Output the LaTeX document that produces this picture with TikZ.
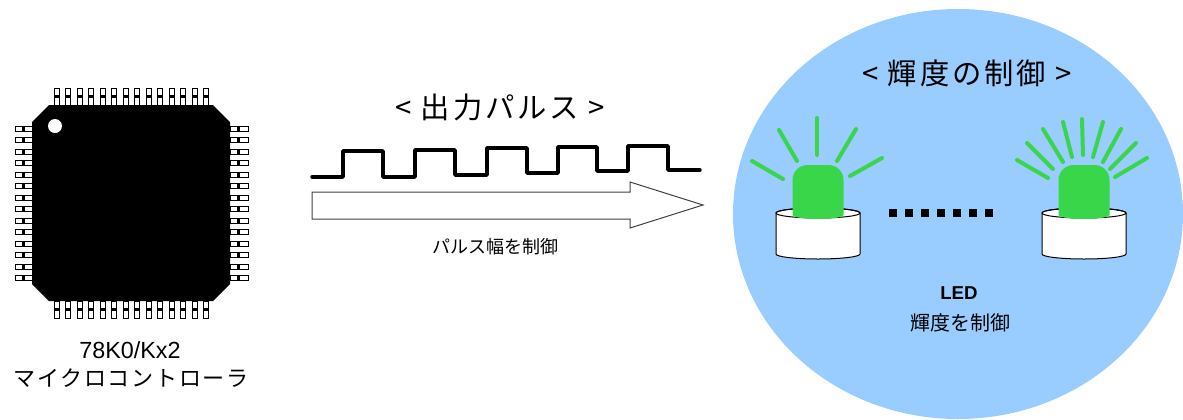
\documentclass[tikz,border=0pt]{standalone}
\usepackage{fontspec}
\setmainfont{Liberation Sans}
\newfontfamily\jp{Noto Sans CJK JP}
\usepackage{tikz}
\definecolor{Sky}{RGB}{153,204,255}
\definecolor{LedGreen}{RGB}{58,214,74}
\tikzstyle{Ray}=[LedGreen, line width=3pt, line cap=round]
\tikzstyle{Pin}=[draw=black, fill=white, line width=0.6pt]
\tikzstyle{Title}=[inner sep=0pt, font=\jp\fontsize{22}{26}\selectfont\addfontfeature{LetterSpace=10}]
\tikzstyle{Caption}=[inner sep=0pt, font=\jp\fontsize{13.5}{16}\selectfont]

\begin{document}
\begin{tikzpicture}[x=0.75pt, y=-0.75pt]
    \useasboundingbox (0,0) rectangle (1183,419);

    \fill[Sky] (958,214) ellipse [x radius=225, y radius=205];

    % package leads
    \foreach \i in {0,...,13} {
        \path[Pin] (54+11.5*\i,88) rectangle +(5,17);
        \fill (54+11.5*\i,95) rectangle +(5,3);
        \path[Pin] (54+11.5*\i,301) rectangle +(5,17);
        \fill (54+11.5*\i,308) rectangle +(5,3);
        \path[Pin] (15,126+11.5*\i) rectangle +(18,5);
        \fill (22,126+11.5*\i) rectangle +(3,5);
        \path[Pin] (230,126+11.5*\i) rectangle +(18,5);
        \fill (237,126+11.5*\i) rectangle +(3,5);
    }
    \fill (49,105) -- (213,105) -- (230,122) -- (230,284) -- (213,301)
        -- (49,301) -- (32,284) -- (32,122) -- cycle;
    \fill[white] (55,126) circle [radius=7];

    % output pulse
    \draw[line width=2.6pt, line join=round, line cap=round]
        (312,177) -- (343,177) -- (343,151) -- (383,151) -- (383,177)
        -- (415,177) -- (415,150) -- (455,150) -- (455,175) -- (487,175)
        -- (487,148) -- (527,148) -- (527,173) -- (558,173) -- (558,147)
        -- (597,147) -- (597,171) -- (628,171) -- (628,146) -- (668,146)
        -- (668,170) -- (700,170);
    \draw[draw=black!75, line width=0.75pt, fill=white]
        (312,192) -- (630,192) -- (630,182) -- (703,205) -- (630,228)
        -- (630,219) -- (312,219) -- cycle;

    % LEDs
    \foreach \cx in {818,1084} {
        \filldraw[fill=white, line width=0.75pt] (\cx-42,213) -- (\cx-42,254)
            arc [start angle=180, end angle=0, x radius=42, y radius=5]
            -- (\cx+42,213)
            arc [start angle=0, end angle=-180, x radius=42, y radius=5] -- cycle;
        \draw[line width=0.75pt] (\cx,213) ellipse [x radius=42, y radius=5];
        \fill[LedGreen] (\cx-25.5,215) -- (\cx-25.5,180)
            arc [start angle=180, end angle=270, radius=15] -- (\cx+10.5,165)
            arc [start angle=270, end angle=360, radius=15] -- (\cx+25.5,215)
            arc [start angle=0, end angle=180, x radius=25.5, y radius=4] -- cycle;
    }
    \draw[Ray] (752,161) -- (783,179);
    \draw[Ray] (779,130) -- (797,161);
    \draw[Ray] (817,118) -- (817,155);
    \draw[Ray] (856,129) -- (837,161);
    \draw[Ray] (882,158) -- (850,176);

    \draw[Ray] (1017,160) -- (1048,178);
    \draw[Ray] (1027,143) -- (1053,169);
    \draw[Ray] (1043,129) -- (1063,162);
    \draw[Ray] (1063,122) -- (1072,157);
    \draw[Ray] (1082,119) -- (1083,155);
    \draw[Ray] (1103,122) -- (1093,157);
    \draw[Ray] (1121,129) -- (1103,162);
    \draw[Ray] (1136,143) -- (1110,169);
    \draw[Ray] (1147,158) -- (1115,177);

    \foreach \k in {0,...,6}
        \fill (889+16*\k,209) rectangle +(8,8);

    \path
    (130,350) node[inner sep=0pt, font=\fontsize{17.5}{20}\selectfont] (part) {78K0/Kx2}
    (131,378) node[inner sep=0pt, font=\jp\fontsize{16.5}{20}\selectfont\addfontfeature{LetterSpace=8}] (mcu) {マイクロコントローラ}
    (500,107) node[Title] (pulse) {< 出力パルス >}
    (495,247) node[Caption] (width) {パルス幅を制御};

    \path
    (967,73) node[Title] (bright) {< 輝度の制御 >}
    (959,293) node[inner sep=0pt, font=\bfseries\fontsize{14}{16}\selectfont] (led) {LED}
    (960,323) node[inner sep=0pt, font=\jp\fontsize{15}{18}\selectfont] (ctrl) {輝度を制御};
\end{tikzpicture}
\end{document}
